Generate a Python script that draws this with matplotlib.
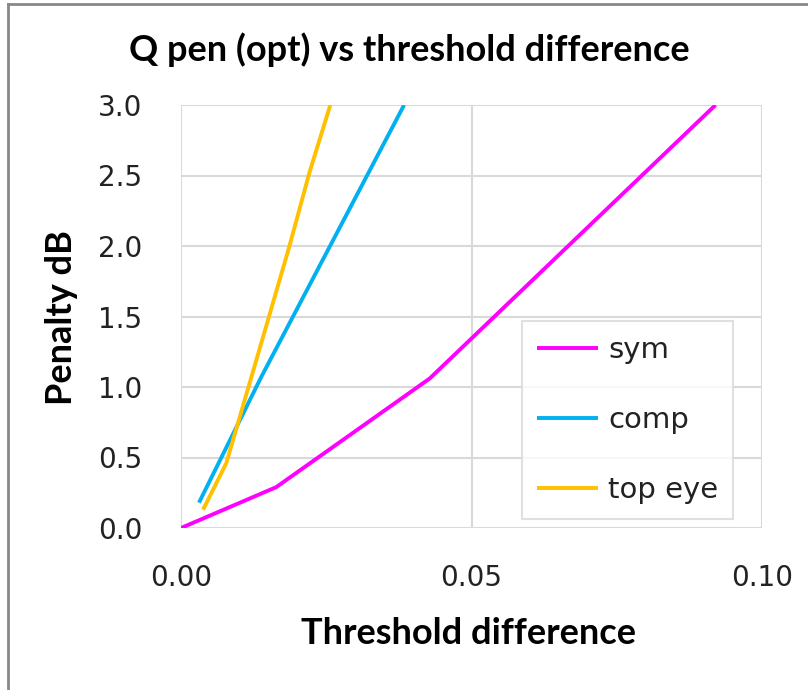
import matplotlib.pyplot as plt
from matplotlib.lines import Line2D

# Data
sym_x = [0.0, 0.0164, 0.0428, 0.0920]
sym_y = [0.0, 0.29, 1.06, 3.0]

comp_x = [0.0031, 0.0138, 0.0384]
comp_y = [0.18, 1.07, 3.0]

top_x = [0.0038, 0.0078, 0.0155, 0.0186, 0.0221, 0.0257]
top_y = [0.13, 0.46, 1.55, 1.99, 2.52, 3.0]

xticks = [0.0, 0.05, 0.10]
yticks = [0.0, 0.5, 1.0, 1.5, 2.0, 2.5, 3.0]

fig = plt.figure(figsize=(8.08, 6.90), dpi=100)
ax = fig.add_axes([181/808, 1 - 528/690, (762 - 181)/808, (528 - 105)/690])

ax.plot(sym_x, sym_y, color="#FF00FF", lw=2.8, label="sym", solid_capstyle="butt")
ax.plot(comp_x, comp_y, color="#00B0F0", lw=2.8, label="comp", solid_capstyle="butt")
ax.plot(top_x, top_y, color="#FFC000", lw=2.8, label="top eye", solid_capstyle="butt")

ax.set_xlim(0, 0.1)
ax.set_ylim(0, 3.0)
ax.set_xticks(xticks)
ax.set_xticklabels(["0.00", "0.05", "0.10"])
ax.set_yticks(yticks)
ax.set_yticklabels([f"{v:.1f}" for v in yticks])
ax.tick_params(length=0, labelsize=20, colors="#222222")
ax.tick_params(axis="y", pad=28)
ax.tick_params(axis="x", pad=26)

ax.grid(True, color="#D9D9D9", lw=1.5)
ax.set_axisbelow(True)
for s in ax.spines.values():
    s.set_visible(False)

fig.text(409/808, 1 - 50/690, "Q pen (opt) vs threshold difference",
         ha="center", va="center", fontsize=26, fontweight="bold", family="Lato")
fig.text(469/808, 1 - 633/690, "Threshold difference",
         ha="center", va="center", fontsize=26, fontweight="bold", family="Lato")
fig.text(62/808, 1 - 318/690, "Penalty dB", rotation=90,
         ha="center", va="center", fontsize=26, fontweight="bold", family="Lato")

leg = ax.legend(loc="lower right", bbox_to_anchor=(733/808, 1 - 519/690),
                bbox_transform=fig.transFigure, fontsize=21, frameon=True,
                fancybox=False, edgecolor="#D9D9D9", borderpad=0.5,
                borderaxespad=0, labelspacing=1.45, handlelength=2.1,
                handletextpad=0.35)
leg.get_frame().set_linewidth(1.5)
for t in leg.get_texts():
    t.set_color("#222222")

# outer chart frame (left and top edges visible)
fig.add_artist(Line2D([8/808, 8/808], [0, 1 - 4/690], color="#888888", lw=2,
                      transform=fig.transFigure))
fig.add_artist(Line2D([8/808, 1], [1 - 4/690, 1 - 4/690], color="#888888", lw=2,
                      transform=fig.transFigure))

fig.savefig("out.png", dpi=100)
